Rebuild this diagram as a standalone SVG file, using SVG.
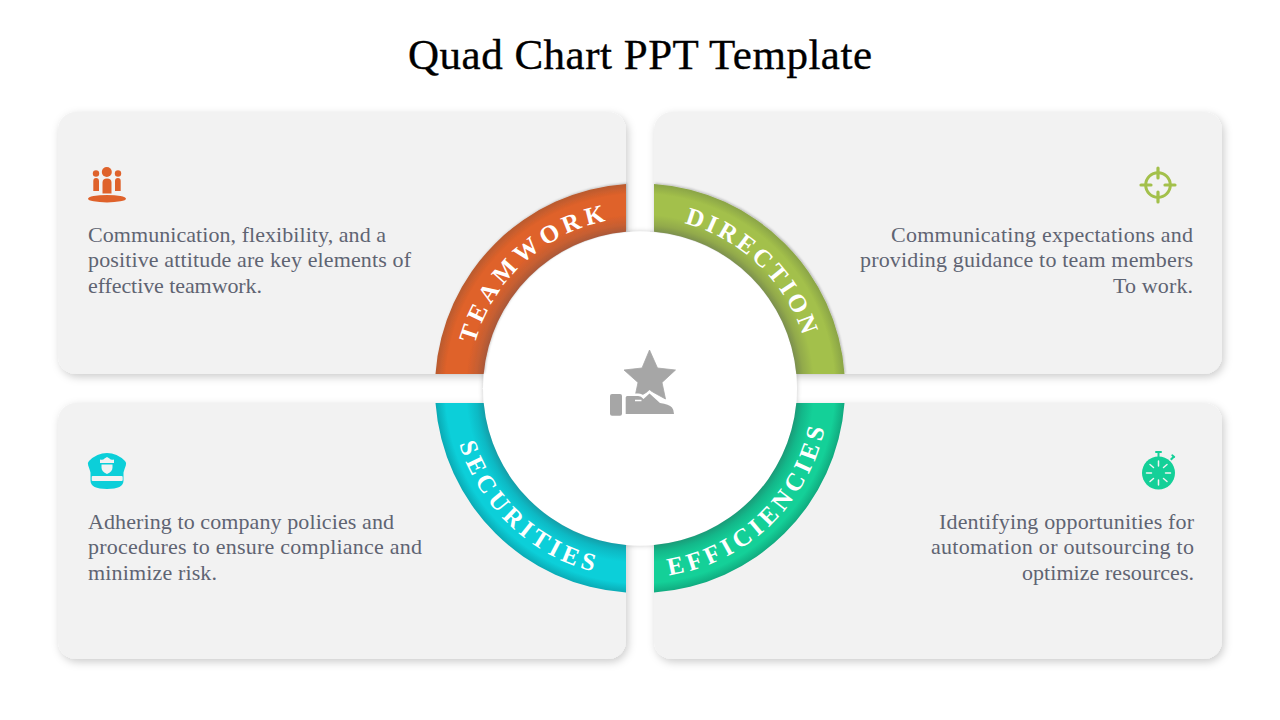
<svg xmlns="http://www.w3.org/2000/svg" xmlns:xlink="http://www.w3.org/1999/xlink" width="1280" height="720" viewBox="0 0 1280 720">
<style>
text{font-family:"Liberation Serif","Times New Roman",serif}
.title{font-size:43px;fill:#000;stroke:#000;stroke-width:.35px}
.body{font-size:22px;fill:#5f6472}
.end{text-anchor:end}
.card{fill:#f2f2f2}
.ringtext{font-size:25px;font-weight:700;fill:#fff;text-anchor:middle}
</style>
<defs>
<filter id="cardShadow" x="-5%" y="-5%" width="110%" height="112%"><feDropShadow dx="2" dy="3" stdDeviation="4" flood-color="#000" flood-opacity=".2"/></filter>
<filter id="edge" x="-5%" y="-5%" width="110%" height="110%"><feDropShadow dx="1" dy="-1" stdDeviation="1" flood-color="#000" flood-opacity=".22"/></filter>
<filter id="circleShadow" x="-5%" y="-5%" width="110%" height="110%"><feDropShadow dx="0" dy="0" stdDeviation="2.500" flood-color="#000" flood-opacity=".22"/></filter>
<radialGradient id="gO" gradientUnits="userSpaceOnUse" cx="640" cy="388.500" r="205"><stop offset=".765" stop-color="#a8583a"/><stop offset=".80" stop-color="#c65e31"/><stop offset=".85" stop-color="#df622b"/><stop offset=".95" stop-color="#df622b"/><stop offset="1" stop-color="#b85a2f"/></radialGradient>
<radialGradient id="gG" gradientUnits="userSpaceOnUse" cx="640" cy="388.500" r="205"><stop offset=".765" stop-color="#7b8f4e"/><stop offset=".80" stop-color="#92aa4b"/><stop offset=".85" stop-color="#a3c04b"/><stop offset=".95" stop-color="#a3c04b"/><stop offset="1" stop-color="#8aa446"/></radialGradient>
<radialGradient id="gT" gradientUnits="userSpaceOnUse" cx="640" cy="388.500" r="205"><stop offset=".765" stop-color="#149ea8"/><stop offset=".80" stop-color="#0db9c4"/><stop offset=".85" stop-color="#0ccfd9"/><stop offset=".95" stop-color="#0ccfd9"/><stop offset="1" stop-color="#0aa9b3"/></radialGradient>
<radialGradient id="gE" gradientUnits="userSpaceOnUse" cx="640" cy="388.500" r="205"><stop offset=".765" stop-color="#1a9b78"/><stop offset=".80" stop-color="#13b88a"/><stop offset=".85" stop-color="#14d098"/><stop offset=".95" stop-color="#14d098"/><stop offset="1" stop-color="#10a97e"/></radialGradient>
<path id="pO" d="M469.200 381A171 171 0 0 1 647.500 217.700" fill="none"/>
<path id="pG" d="M637 217.500A171 171 0 0 1 811 385.500" fill="none"/>
<path id="pT" d="M451.100 395.100A189 189 0 0 0 646.600 577.400" fill="none"/>
<path id="pE" d="M636.700 577.500A189 189 0 0 0 829 391.800" fill="none"/>
</defs>
<text class="title" x="640" y="69" text-anchor="middle" textLength="464">Quad Chart PPT Template</text>

<g id="card-teamwork">
<rect class="card" x="58" y="112" width="568" height="262" rx="18" filter="url(#cardShadow)"/>
<g fill="#df622b"><circle cx="106.800" cy="172" r="5"/><circle cx="96" cy="173.500" r="3.200"/><circle cx="118" cy="173.500" r="3.200"/><path d="M102.500 193.500v-11q0-4 4.500-4t4.500 4v11zM93.300 191v-10q0-3 2.800-3t2.900 3v10zM115 191v-10q0-3 2.900-3t2.800 3v10z"/><ellipse cx="107" cy="198.700" rx="19" ry="3.700"/></g>
<text class="body"><tspan x="88" y="242" textLength="298">Communication, flexibility, and a</tspan><tspan x="88" y="267" textLength="323">positive attitude are key elements of</tspan><tspan x="88" y="293" textLength="174">effective teamwork.</tspan></text>
</g>
<g id="card-direction">
<rect class="card" x="654" y="112" width="568" height="262" rx="18" filter="url(#cardShadow)"/>
<g fill="none" stroke="#a3c04b"><circle cx="1158" cy="185" r="12.300" stroke-width="3"/><path d="M1158 168v10M1158 192v10M1141 185h10M1165 185h10" stroke-width="3.200" stroke-linecap="round"/></g>
<text class="body end"><tspan x="1193" y="242" textLength="302">Communicating expectations and</tspan><tspan x="1193" y="267" textLength="333">providing guidance to team members</tspan><tspan x="1193" y="293" textLength="80">To work.</tspan></text>
</g>
<g id="card-securities">
<rect class="card" x="58" y="403" width="568" height="256" rx="18" filter="url(#cardShadow)"/>
<path d="M107 453q10 0 18 8q2 2 .8 4.500q-1.500 4-2.300 7v8q0 8.500-16.500 8.500t-16.500-8.500v-8q-.8-3-2.300-7q-1.200-2.500.8-4.500q8-8 18-8z" fill="#0ccfd9"/>
<rect x="91.700" y="476" width="31" height="5" rx="1" fill="#f2f2f2"/>
<path d="M100 459.500q3 1 4.500-1l2.500-1.500 2.500 1.500q1.500 2 4.500 1v3.500h-14zM101.500 464.500h11v3q0 4-5.500 6.500q-5.500-2.500-5.500-6.500z" fill="#f2f2f2"/>
<text class="body"><tspan x="88" y="529" textLength="306">Adhering to company policies and</tspan><tspan x="88" y="554" textLength="334">procedures to ensure compliance and</tspan><tspan x="88" y="580" textLength="129">minimize risk.</tspan></text>
</g>
<g id="card-efficiencies">
<rect class="card" x="654" y="403" width="568" height="256" rx="18" filter="url(#cardShadow)"/>
<g fill="#14d098"><circle cx="1158.500" cy="473" r="16.500"/><rect x="1157.500" y="452" width="2" height="6"/><rect x="1155" y="451" width="7" height="2" rx="1"/><path d="M1170 459l3-3 1.500 1.500-3 3z"/><rect x="1171" y="455" width="4.500" height="1.800" rx=".9" transform="rotate(40 1173 456)"/></g>
<g stroke="#f2f2f2" stroke-width="1.500" stroke-linecap="round"><path d="M1158.500 461v5M1158.500 480v5M1146.500 473h5M1165.500 473h5M1150 464.500l3.500 3M1163.500 478.500l3.500 3M1150 481.500l3.500-3M1163.500 467.500l3.500-3"/></g>
<text class="body end"><tspan x="1194" y="529" textLength="255">Identifying opportunities for</tspan><tspan x="1194" y="554" textLength="263">automation or outsourcing to</tspan><tspan x="1194" y="580" textLength="172">optimize resources.</tspan></text>
</g>

<g id="center-disc"><circle cx="640" cy="388.500" r="157" fill="#fff" filter="url(#circleShadow)"/></g>
<g id="ring">
<g id="seg-teamwork"><path d="M435.500 374A205 205 0 0 1 626 184V231.700A157 157 0 0 0 483.700 374z" fill="url(#gO)" filter="url(#edge)"/><text class="ringtext" letter-spacing="4.600"><textPath xlink:href="#pO" href="#pO" startOffset="50%">TEAMWORK</textPath></text></g>
<g id="seg-direction"><path d="M654 184A205 205 0 0 1 844.500 374H796.300A157 157 0 0 0 654 231.700z" fill="url(#gG)" filter="url(#edge)"/><text class="ringtext" letter-spacing="3.200"><textPath xlink:href="#pG" href="#pG" startOffset="50%">DIRECTION</textPath></text></g>
<g id="seg-securities"><path d="M435.500 403A205 205 0 0 0 626 592.500V545A157 157 0 0 1 483.700 403z" fill="url(#gT)"/><text class="ringtext" letter-spacing="4.600"><textPath xlink:href="#pT" href="#pT" startOffset="50%">SECURITIES</textPath></text></g>
<g id="seg-efficiencies"><path d="M654 592.500A205 205 0 0 0 844.500 403H796.300A157 157 0 0 1 654 545z" fill="url(#gE)"/><text class="ringtext" letter-spacing="4.500"><textPath xlink:href="#pE" href="#pE" startOffset="50%">EFFICIENCIES</textPath></text></g>
</g>

<g id="center-icon">
<path d="M649.500 350l8 18 18 2-13.500 12.500 3.500 16.500-15.500-8.500-15.500 8.500 3.500-16.500-14-12.500 18-2z" fill="#a6a6a6" stroke="#a6a6a6" stroke-linejoin="round" stroke-width=".8"/>
<rect x="610" y="394" width="12" height="21.700" rx="2" fill="#a6a6a6"/>
<path d="M625.700 397.500q0-1.500 1.500-1.500h11q3 0 5.300 3l6-5.500 10.500 9.500q9 1 12 4.500q2 2.500 2 6.500h-48.300z" fill="#a6a6a6" stroke="#fff" stroke-width="5" paint-order="stroke"/>
<path d="M635 400.500h6.500" fill="none" stroke="#fff" stroke-width="1.500"/>
</g>
</svg>
